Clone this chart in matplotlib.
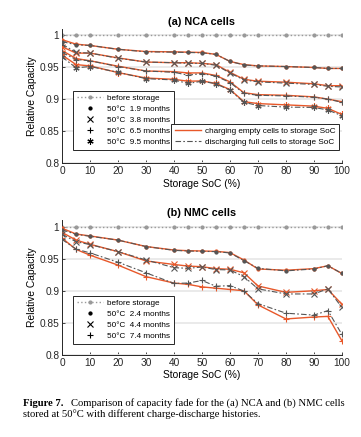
import matplotlib.pyplot as plt
from matplotlib.lines import Line2D

plt.rcParams['font.family'] = ['Liberation Sans', 'DejaVu Sans']

# storage state of charge (%)
soc = [0, 5, 10, 20, 30, 40, 45, 50, 55, 60, 65, 70, 80, 90, 95, 100]

# NCA cells, charging empty cells (chg) / discharging full cells (dis)
nca_chg_19 = [0.993, 0.986, 0.984, 0.978, 0.9745, 0.974, 0.9735, 0.973, 0.970, 0.959, 0.954, 0.952, 0.951, 0.9495, 0.948, 0.948]
nca_dis_19 = [0.990, 0.985, 0.984, 0.978, 0.974, 0.9735, 0.973, 0.9725, 0.970, 0.959, 0.9535, 0.952, 0.951, 0.9495, 0.948, 0.948]
nca_chg_38 = [0.982, 0.972, 0.972, 0.9645, 0.958, 0.957, 0.957, 0.956, 0.954, 0.942, 0.931, 0.928, 0.9265, 0.924, 0.921, 0.921]
nca_dis_38 = [0.986, 0.973, 0.972, 0.964, 0.958, 0.957, 0.956, 0.956, 0.953, 0.941, 0.930, 0.927, 0.925, 0.923, 0.920, 0.919]
nca_chg_65 = [0.976, 0.9635, 0.960, 0.9515, 0.944, 0.943, 0.941, 0.941, 0.937, 0.927, 0.910, 0.907, 0.906, 0.9035, 0.900, 0.896]
nca_dis_65 = [0.973, 0.962, 0.960, 0.951, 0.944, 0.942, 0.9375, 0.940, 0.936, 0.926, 0.909, 0.906, 0.905, 0.903, 0.900, 0.895]
nca_chg_95 = [0.969, 0.954, 0.952, 0.9415, 0.933, 0.931, 0.928, 0.9285, 0.9245, 0.915, 0.896, 0.893, 0.891, 0.889, 0.8855, 0.876]
nca_dis_95 = [0.966, 0.949, 0.951, 0.942, 0.932, 0.930, 0.9245, 0.928, 0.924, 0.914, 0.895, 0.890, 0.8875, 0.887, 0.883, 0.874]

# NMC cells
nmc_chg_24 = [0.9975, 0.9885, 0.9855, 0.979, 0.969, 0.9635, 0.9625, 0.962, 0.9615, 0.9595, 0.948, 0.934, 0.932, 0.9345, 0.939, 0.927]
nmc_dis_24 = [0.995, 0.988, 0.985, 0.979, 0.969, 0.963, 0.962, 0.9615, 0.961, 0.959, 0.947, 0.935, 0.931, 0.934, 0.939, 0.927]
nmc_chg_44 = [0.991, 0.979, 0.9725, 0.961, 0.9465, 0.941, 0.9385, 0.9375, 0.9345, 0.9335, 0.928, 0.9075, 0.8975, 0.900, 0.902, 0.879]
nmc_dis_44 = [0.988, 0.9765, 0.972, 0.961, 0.948, 0.936, 0.935, 0.937, 0.933, 0.9325, 0.922, 0.903, 0.895, 0.895, 0.903, 0.874]
nmc_chg_74 = [0.982, 0.9645, 0.9555, 0.940, 0.922, 0.912, 0.910, 0.906, 0.904, 0.902, 0.900, 0.878, 0.856, 0.859, 0.860, 0.822]
nmc_dis_74 = [0.980, 0.965, 0.959, 0.9445, 0.928, 0.9115, 0.912, 0.916, 0.907, 0.908, 0.8995, 0.880, 0.865, 0.862, 0.869, 0.832]

before = [1.0] * len(soc)

nca_labels = ['50°C  1.9 months', '50°C  3.8 months', '50°C  6.5 months', '50°C  9.5 months']
nmc_labels = ['50°C  2.4 months', '50°C  4.4 months', '50°C  7.4 months']

ORANGE = '#e8582a'
GRAY = '#555555'
markers = ['.', 'x', '+', (6, 2, 0)]
msizes = [4.5, 4.0, 5.0, 4.5]
LEG = dict(fontsize=5.9, handlelength=3.2, labelspacing=0.4, borderpad=0.45,
           handletextpad=0.5, fancybox=False, framealpha=1, edgecolor='#262626')


def draw(ax, chg, dis, labels, title, leg_y):
    ax.plot(soc, before, ':', color='#999999', lw=1.0, marker='.', ms=4, zorder=2)
    for i, (c, d) in enumerate(zip(chg, dis)):
        ax.plot(soc, c, '-', color=ORANGE, lw=1.0, marker=markers[i], ms=msizes[i],
                mew=0.8, zorder=3)
        ax.plot(soc, d, color=GRAY, lw=0.8, dashes=(5, 2, 1.5, 2), marker=markers[i],
                ms=msizes[i], mew=0.8, zorder=4)
    ax.set_xlim(0, 100)
    ax.set_ylim(0.8, 1.01)
    ax.set_xticks(range(0, 101, 10))
    ax.set_yticks([0.8, 0.85, 0.9, 0.95, 1])
    ax.set_yticklabels(['0.8', '0.85', '0.9', '0.95', '1'])
    ax.tick_params(direction='in', length=2.5, width=0.6, labelsize=7.3, colors='#262626', pad=2)
    for s in ['top', 'right']:
        ax.spines[s].set_visible(False)
    for s in ['left', 'bottom']:
        ax.spines[s].set_color('#262626')
        ax.spines[s].set_linewidth(0.7)
    ax.yaxis.grid(True, color='#e8e8e8', lw=1.3)
    ax.set_axisbelow(True)
    ax.set_title(title, fontsize=7.8, fontweight='bold', pad=3)
    ax.set_xlabel('Storage SoC (%)', fontsize=7.4, labelpad=2)
    ax.set_ylabel('Relative Capacity', fontsize=7.4, labelpad=2)

    h = [Line2D([], [], ls=':', color='#999999', lw=1.0, marker='.', ms=4)]
    for i in range(len(labels)):
        h.append(Line2D([], [], ls='none', color='black', marker=markers[i], ms=msizes[i], mew=0.8))
    leg = ax.legend(h, ['before storage'] + labels, loc='lower left',
                    bbox_to_anchor=(0.025, leg_y), **LEG)
    leg.get_frame().set_linewidth(0.7)
    return leg


fig = plt.figure(figsize=(3.61, 4.37), dpi=100)
ax1 = fig.add_axes([0.172, 0.627, 0.775, 0.307])
ax2 = fig.add_axes([0.172, 0.188, 0.775, 0.308])

leg1 = draw(ax1, [nca_chg_19, nca_chg_38, nca_chg_65, nca_chg_95],
            [nca_dis_19, nca_dis_38, nca_dis_65, nca_dis_95], nca_labels, '(a) NCA cells', 0.067)
ax1.add_artist(leg1)
h2 = [Line2D([], [], color=ORANGE, lw=1.0),
      Line2D([], [], color=GRAY, lw=0.8, dashes=(5, 2, 1.5, 2))]
leg2 = ax1.legend(h2, ['charging empty cells to storage SoC', 'discharging full cells to storage SoC'],
                  loc='lower right', bbox_to_anchor=(1.005, 0.067), **LEG)
leg2.get_frame().set_linewidth(0.7)

draw(ax2, [nmc_chg_24, nmc_chg_44, nmc_chg_74], [nmc_dis_24, nmc_dis_44, nmc_dis_74],
     nmc_labels, '(b) NMC cells', 0.052)

cap_y1 = 1 - 403 / 437
cap_y2 = 1 - 414 / 437
fig.text(23 / 361, cap_y1, 'Figure 7.', fontsize=7.7, fontweight='bold',
         family='Liberation Serif', va='center')
fig.text(71 / 361, cap_y1, 'Comparison of capacity fade for the (a) NCA and (b) NMC cells',
         fontsize=7.7, family='Liberation Serif', va='center')
fig.text(23 / 361, cap_y2, 'stored at 50°C with different charge-discharge histories.',
         fontsize=7.7, family='Liberation Serif', va='center')

fig.savefig('out.png', dpi=100)
